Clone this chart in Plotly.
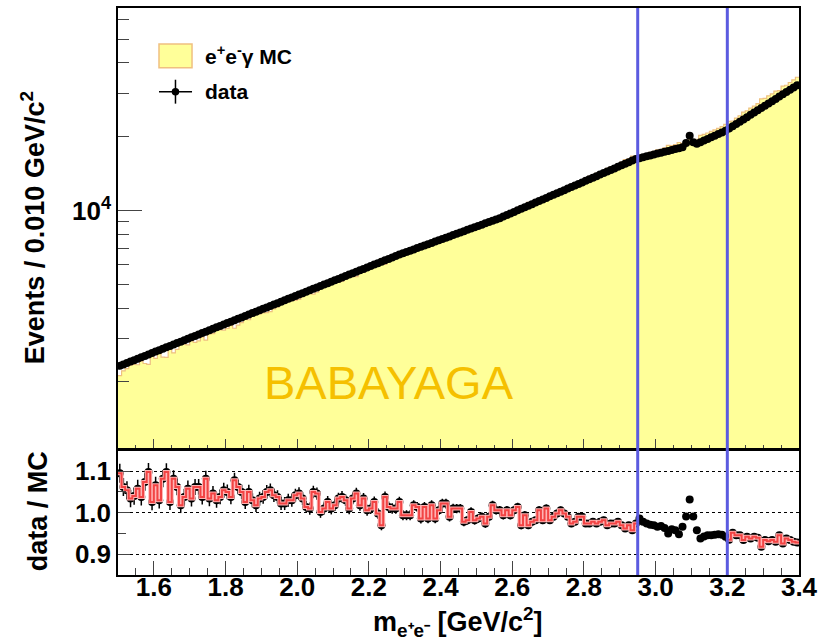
import math
import plotly.graph_objects as go

# ---------------- data ----------------
x_start = 1.50
bin_width = 0.01
n_bins = 190
window_edges = [2.95, 3.20]  # J/psi window (vertical lines)

data_counts = [
    2323, 2354, 2386, 2418, 2451, 2484, 2517, 2551, 2586, 2621,
    2656, 2692, 2728, 2765, 2802, 2840, 2878, 2917, 2956, 2996,
    3036, 3077, 3119, 3161, 3203, 3247, 3290, 3335, 3380, 3425,
    3471, 3518, 3566, 3614, 3662, 3712, 3762, 3813, 3864, 3916,
    3969, 4023, 4077, 4132, 4188, 4244, 4302, 4360, 4418, 4478,
    4538, 4600, 4662, 4725, 4788, 4853, 4918, 4985, 5052, 5120,
    5189, 5259, 5330, 5402, 5475, 5549, 5624, 5700, 5776, 5854,
    5933, 6013, 6094, 6177, 6260, 6344, 6430, 6517, 6605, 6686,
    6769, 6852, 6936, 7022, 7108, 7196, 7285, 7374, 7465, 7557,
    7650, 7744, 7840, 7936, 8034, 8133, 8233, 8334, 8437, 8541,
    8646, 8752, 8860, 8969, 9080, 9192, 9305, 9442, 9581, 9722,
    9865, 10010, 10157, 10306, 10458, 10612, 10768, 10926, 11087, 11250,
    11416, 11584, 11754, 11927, 12102, 12280, 12461, 12644, 12830, 13019,
    13211, 13405, 13602, 13802, 14005, 14211, 14420, 14632, 14847, 15066,
    15287, 15512, 15740, 15972, 16207, 16346, 16486, 16627, 16769, 16913,
    17058, 17204, 17351, 17500, 17650, 17801, 17953, 18107, 18836, 20184,
    18967, 18707, 18995, 19287, 19583, 19884, 20190, 20500, 20815, 21135,
    21593, 22060, 22538, 23026, 23524, 24033, 24553, 25084, 25627, 26181,
    26748, 27327, 27918, 28522, 29139, 29770, 30414, 31072, 31744, 32431,
]

ratio = [
    1.095, 1.062, 1.054, 1.034, 1.040, 1.058, 1.038, 1.074, 1.098, 1.026,
    1.066, 1.030, 1.082, 1.098, 1.026, 1.082, 1.062, 1.018, 1.038, 1.058,
    1.034, 1.062, 1.062, 1.038, 1.082, 1.034, 1.046, 1.030, 1.038, 1.054,
    1.050, 1.038, 1.078, 1.062, 1.050, 1.026, 1.050, 1.030, 1.018, 1.034,
    1.038, 1.050, 1.054, 1.042, 1.038, 1.022, 1.022, 1.030, 1.030, 1.042,
    1.046, 1.034, 1.014, 1.010, 1.050, 1.046, 1.002, 1.010, 1.026, 1.010,
    1.018, 1.034, 1.038, 1.030, 1.010, 1.034, 1.046, 1.018, 1.034, 1.006,
    1.010, 1.026, 0.998, 0.970, 1.038, 1.014, 1.010, 1.010, 1.026, 0.994,
    0.994, 0.994, 1.018, 1.014, 0.986, 1.014, 0.986, 1.018, 0.986, 1.006,
    1.022, 1.022, 0.990, 1.010, 1.010, 1.010, 0.978, 0.982, 1.002, 0.982,
    0.986, 0.990, 0.974, 0.990, 1.018, 1.006, 1.006, 0.994, 1.006, 0.994,
    1.006, 1.014, 0.970, 0.994, 0.970, 0.978, 0.982, 1.006, 0.982, 1.010,
    0.982, 0.990, 0.998, 1.006, 0.998, 0.990, 0.974, 0.978, 0.990, 0.990,
    0.974, 0.974, 0.978, 0.974, 0.978, 0.982, 0.970, 0.974, 0.974, 0.978,
    0.970, 0.962, 0.970, 0.958, 0.974, 0.986, 0.978, 0.974, 0.971, 0.970,
    0.966, 0.968, 0.963, 0.950, 0.960, 0.958, 0.948, 0.966, 0.991, 1.032,
    0.991, 0.958, 0.938, 0.943, 0.946, 0.946, 0.947, 0.948, 0.947, 0.942,
    0.935, 0.952, 0.946, 0.946, 0.934, 0.942, 0.938, 0.942, 0.940, 0.918,
    0.934, 0.931, 0.934, 0.930, 0.946, 0.926, 0.938, 0.934, 0.930, 0.928,
]

y_major_ticks = [10000]
y_major_text = ["<b>10<sup>4</sup></b>"]
y_minor_ticks = [2000, 3000, 4000, 5000, 6000, 7000, 8000, 9000,
                 20000, 30000, 40000, 50000, 60000]
ratio_ticks = [0.9, 1.0, 1.1]
ratio_text = ["0.9", "1.0", "1.1"]
ratio_minor = [0.95, 1.05]

# ---------------- derived ----------------
edges = [round(x_start + bin_width * i, 3) for i in range(n_bins + 1)]
centers = [round(x_start + bin_width * (i + 0.5), 4) for i in range(n_bins)]
mc_counts = [d / r for d, r in zip(data_counts, ratio)]
data_err = [math.sqrt(d) for d in data_counts]
ratio_err = [r / math.sqrt(d) for r, d in zip(ratio, data_counts)]

# red step histogram outside the J/psi window
step_x, step_y = [], []
segments = [[i for i in range(n_bins) if centers[i] < window_edges[0]],
            [i for i in range(n_bins) if centers[i] > window_edges[1]]]
for seg in segments:
    if step_x:
        step_x.append(None)
        step_y.append(None)
    for i in seg:
        step_x.append(edges[i])
        step_y.append(ratio[i])
    step_x.append(edges[seg[-1] + 1])
    step_y.append(ratio[seg[-1]])

FONT = "Liberation Sans, Arial, Helvetica, sans-serif"

fig = go.Figure()

fig.add_trace(go.Scatter(
    x=edges, y=mc_counts + [mc_counts[-1]], mode="lines", line_shape="hv",
    fill="tozeroy", fillcolor="#ffff99",
    line=dict(color="#eec080", width=1.2),
    name="e<sup>+</sup>e<sup>-</sup>γ MC", xaxis="x", yaxis="y"))

fig.add_trace(go.Scatter(
    x=centers, y=data_counts, mode="markers", name="data",
    marker=dict(color="black", size=8),
    error_y=dict(type="data", array=data_err, color="black", thickness=1, width=0),
    xaxis="x", yaxis="y"))

fig.add_trace(go.Scatter(
    x=centers, y=ratio, mode="markers",
    marker=dict(color="black", size=8),
    error_y=dict(type="data", array=ratio_err, color="black", thickness=1.5, width=0),
    xaxis="x2", yaxis="y2"))

fig.add_trace(go.Scatter(
    x=step_x, y=step_y, mode="lines", line_shape="hv", connectgaps=False,
    line=dict(color="#ffb4b4", width=4), xaxis="x2", yaxis="y2"))

fig.add_trace(go.Scatter(
    x=step_x, y=step_y, mode="lines", line_shape="hv", connectgaps=False,
    line=dict(color="#f24444", width=2), xaxis="x2", yaxis="y2"))

tickfont = dict(family=FONT, size=26, color="black", weight="bold")

fig.update_layout(
    width=829, height=642,
    margin=dict(l=118, r=30, t=6, b=67),
    paper_bgcolor="white", plot_bgcolor="white",
    font=dict(family=FONT, color="black"),
    showlegend=False,
    xaxis=dict(domain=[0, 1], anchor="y", range=[1.5, 3.4], matches="x2",
               showticklabels=False, ticks="inside", ticklen=11, tickwidth=1,
               tick0=1.6, dtick=0.2,
               minor=dict(ticks="inside", ticklen=5, tick0=1.5, dtick=0.05, tickwidth=1),
               showline=True, linecolor="black", linewidth=1.5, mirror=True,
               showgrid=False, zeroline=False),
    yaxis=dict(domain=[0.2214, 1], anchor="x", type="log", range=[3.025, 4.826],
               tickmode="array", tickvals=y_major_ticks, ticktext=y_major_text,
               ticks="inside", ticklen=24, tickwidth=1, tickfont=tickfont,
               minor=dict(tickmode="array", tickvals=y_minor_ticks, ticks="inside",
                          ticklen=11, tickwidth=1),
               showline=True, linecolor="black", linewidth=1.5, mirror=True,
               showgrid=False, zeroline=False),
    xaxis2=dict(domain=[0, 1], anchor="y2", range=[1.5, 3.4],
                ticks="inside", ticklen=14, tickwidth=1, tick0=1.6, dtick=0.2,
                tickformat=".1f", tickfont=tickfont, ticklabelstandoff=-12,
                minor=dict(ticks="inside", ticklen=7, tick0=1.5, dtick=0.05, tickwidth=1),
                showline=True, linecolor="black", linewidth=1.5, mirror=True,
                showgrid=False, zeroline=False),
    yaxis2=dict(domain=[0, 0.2197], anchor="x2", range=[0.85, 1.15],
                tickmode="array", tickvals=ratio_ticks, ticktext=ratio_text,
                ticks="inside", ticklen=12, tickwidth=1, tickfont=tickfont,
                minor=dict(tickmode="array", tickvals=ratio_minor, ticks="inside",
                           ticklen=8, tickwidth=1),
                showgrid=True, gridcolor="black", gridwidth=1, griddash="dot",
                showline=True, linecolor="black", linewidth=1.5, mirror=True,
                zeroline=False),
)

for xe in window_edges:
    fig.add_shape(type="line", xref="x", yref="paper", x0=xe, x1=xe, y0=0, y1=1,
                  line=dict(color="#5b5be0", width=3), layer="above")

# ---- legend (drawn by hand, ROOT style) ----
fig.add_shape(type="rect", xref="paper", yref="paper",
              x0=0.0602, x1=0.1087, y0=0.8946, y1=0.9367,
              fillcolor="#ffff99", line=dict(color="#f0c080", width=1.5))
fig.add_shape(type="line", xref="paper", yref="paper",
              x0=0.0602, x1=0.1087, y0=0.8524, y1=0.8524,
              line=dict(color="black", width=1.5))
fig.add_shape(type="line", xref="paper", yref="paper",
              x0=0.0844, x1=0.0844, y0=0.8313, y1=0.8735,
              line=dict(color="black", width=1.5))
fig.add_shape(type="circle", xref="paper", yref="paper",
              x0=0.0844 - 0.0055, x1=0.0844 + 0.0055,
              y0=0.8524 - 0.0066, y1=0.8524 + 0.0066,
              fillcolor="black", line=dict(color="black", width=0))
legend_font = dict(family=FONT, size=21, color="black")
fig.add_annotation(text="<b>e<sup>+</sup>e<sup>-</sup>γ MC</b>", xref="paper", yref="paper",
                   x=0.1248, y=0.9165, xanchor="left", yanchor="middle",
                   showarrow=False, font=legend_font)
fig.add_annotation(text="<b>data</b>", xref="paper", yref="paper",
                   x=0.1248, y=0.8524, xanchor="left", yanchor="middle",
                   showarrow=False, font=legend_font)

fig.add_annotation(text="<b>Events / 0.010 GeV/c<sup>2</sup></b>", textangle=-90,
                   xref="paper", yref="paper", x=-0.1248, y=0.6116,
                   xanchor="center", yanchor="middle", showarrow=False,
                   font=dict(family=FONT, size=27, color="black"))
fig.add_annotation(text="<b>data / MC</b>", textangle=-90,
                   xref="paper", yref="paper", x=-0.1175, y=0.1125,
                   xanchor="center", yanchor="middle", showarrow=False,
                   font=dict(family=FONT, size=27, color="black"))
fig.add_annotation(text="<b>m<sub>e⁺e⁻</sub> [GeV/c<sup>2</sup>]</b>",
                   xref="paper", yref="paper", x=0.4993, y=-0.083,
                   xanchor="center", yanchor="middle", showarrow=False,
                   font=dict(family=FONT, size=27, color="black"))
fig.add_annotation(text="BABAYAGA", xref="paper", yref="paper", x=0.398, y=0.339,
                   xanchor="center", yanchor="middle", showarrow=False,
                   font=dict(family=FONT, size=47, color="#f5c000"))

fig.write_html("out.html", config={"displayModeBar": False},
               post_script="document.body.style.margin='0';document.body.style.padding='0';")
